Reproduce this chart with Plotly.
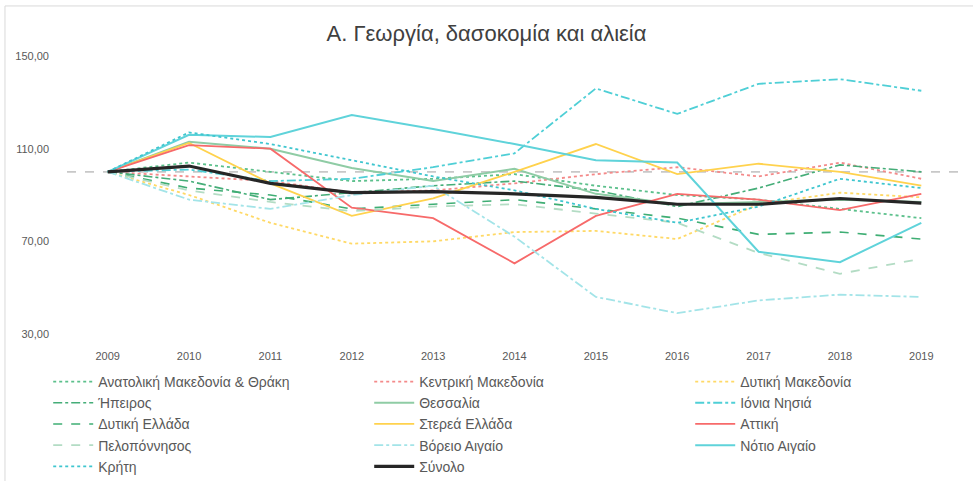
import plotly.graph_objects as go

years = [2009, 2010, 2011, 2012, 2013, 2014, 2015, 2016, 2017, 2018, 2019]
x_labels = [str(y) for y in years]

anatoliki = [100, 104, 100, 96, 97, 99, 94, 90, 88, 84, 80]
kentriki = [100, 98, 96, 91, 92, 95, 99, 102, 98, 104, 97]
dytiki_mak = [100, 90, 78, 69, 70, 74, 74.5, 71, 86, 91, 89]
ipeiros = [100, 96, 88, 91, 94, 96, 92, 85, 93, 103, 100]
thessalia = [100, 113, 110, 101.7, 96, 101.3, 90.5, 86, 87, 88, 87]
ionia = [100, 101, 96, 97, 102, 108, 136, 125, 138, 140, 135]
dytiki_ell = [100, 93, 90, 84, 86, 88, 84, 80, 73, 74, 71]
sterea = [100, 112.5, 95, 81, 88.5, 100, 112, 99, 103.5, 100, 94]
attiki = [100, 111.5, 110, 84.5, 80, 60.5, 81, 90.5, 88, 83.5, 90.5]
peloponnisos = [100, 92, 87, 83, 85, 86, 82, 78, 65, 56, 62.5]
voreio = [100, 88, 84, 90, 94, 72, 46, 39, 44.5, 47, 46]
notio = [100, 116, 115, 124.5, 118.5, 112, 105, 104, 65.5, 61, 78]
kriti = [100, 117, 112, 105, 98, 92, 84, 78, 85, 97, 93]
synolo = [100, 102.5, 95, 91, 91.5, 90.5, 89, 86, 86, 88.5, 86.5]
base_value = 100

series = [
    ("Ανατολική Μακεδονία & Θράκη", anatoliki, "#5cc08c", "dot", 1.8),
    ("Κεντρική Μακεδονία", kentriki, "#f48a8a", "dot", 1.8),
    ("Δυτική Μακεδονία", dytiki_mak, "#ffd966", "dot", 1.8),
    ("Ήπειρος", ipeiros, "#45ad78", "dashdot", 1.6),
    ("Θεσσαλία", thessalia, "#8fcca5", "solid", 2),
    ("Ιόνια Νησιά", ionia, "#4fcfd6", "dashdot", 1.8),
    ("Δυτική Ελλάδα", dytiki_ell, "#3fae74", "dash", 1.6),
    ("Στερεά Ελλάδα", sterea, "#ffd24d", "solid", 1.8),
    ("Αττική", attiki, "#f76a6a", "solid", 1.8),
    ("Πελοπόννησος", peloponnisos, "#b3dcc4", "dash", 1.8),
    ("Βόρειο Αιγαίο", voreio, "#a3e4e8", "dashdot", 1.8),
    ("Νότιο Αιγαίο", notio, "#5fd3da", "solid", 2),
    ("Κρήτη", kriti, "#3fc6cf", "dot", 1.8),
    ("Σύνολο", synolo, "#262626", "solid", 3.2),
]

fig = go.Figure()
for name, vals, color, dash, width in series:
    fig.add_trace(go.Scatter(
        x=years, y=vals, name=name, mode="lines",
        line=dict(color=color, dash=dash, width=width),
    ))

fig.add_shape(type="line", xref="paper", x0=0, x1=1, yref="y", y0=base_value, y1=base_value,
              line=dict(color="#c8c8c8", width=1.8, dash="dash"), layer="below")
# chart border
fig.add_shape(type="rect", xref="paper", yref="paper", x0=-0.0693, x1=1.03, y0=-0.6, y1=1.18,
              line=dict(color="#d9d9d9", width=1), layer="below")

font_family = "Liberation Sans, Arial, sans-serif"

fig.update_layout(
    width=973, height=481,
    margin=dict(l=67, r=11, t=56, b=147, autoexpand=False),
    paper_bgcolor="white", plot_bgcolor="white",
    title=dict(text="Α. Γεωργία, δασοκομία και αλιεία", x=0.5, xanchor="center",
               y=1 - 33 / 481, yanchor="middle",
               font=dict(family=font_family, size=22, color="#404040")),
    xaxis=dict(range=[2008.5, 2019.5], tickvals=years, ticktext=x_labels,
               showgrid=False, zeroline=False, showline=False, ticks="",
               ticklabelstandoff=14,
               tickfont=dict(family=font_family, size=11, color="#595959")),
    yaxis=dict(range=[30, 150], tickvals=[30, 70, 110, 150],
               ticktext=["30,00", "70,00", "110,00", "150,00"],
               showgrid=False, zeroline=False, showline=False, ticks="",
               ticklabelstandoff=17,
               tickfont=dict(family=font_family, size=11, color="#595959")),
    legend=dict(orientation="h", x=-0.021, xanchor="left", y=-0.115, yanchor="top",
                entrywidth=266, entrywidthmode="pixels",
                font=dict(family=font_family, size=14, color="#595959"),
                itemwidth=40, tracegroupgap=0),
    showlegend=True,
)

fig.write_html("out.html", config={"displayModeBar": False},
               post_script="document.body.style.margin='0px';")
